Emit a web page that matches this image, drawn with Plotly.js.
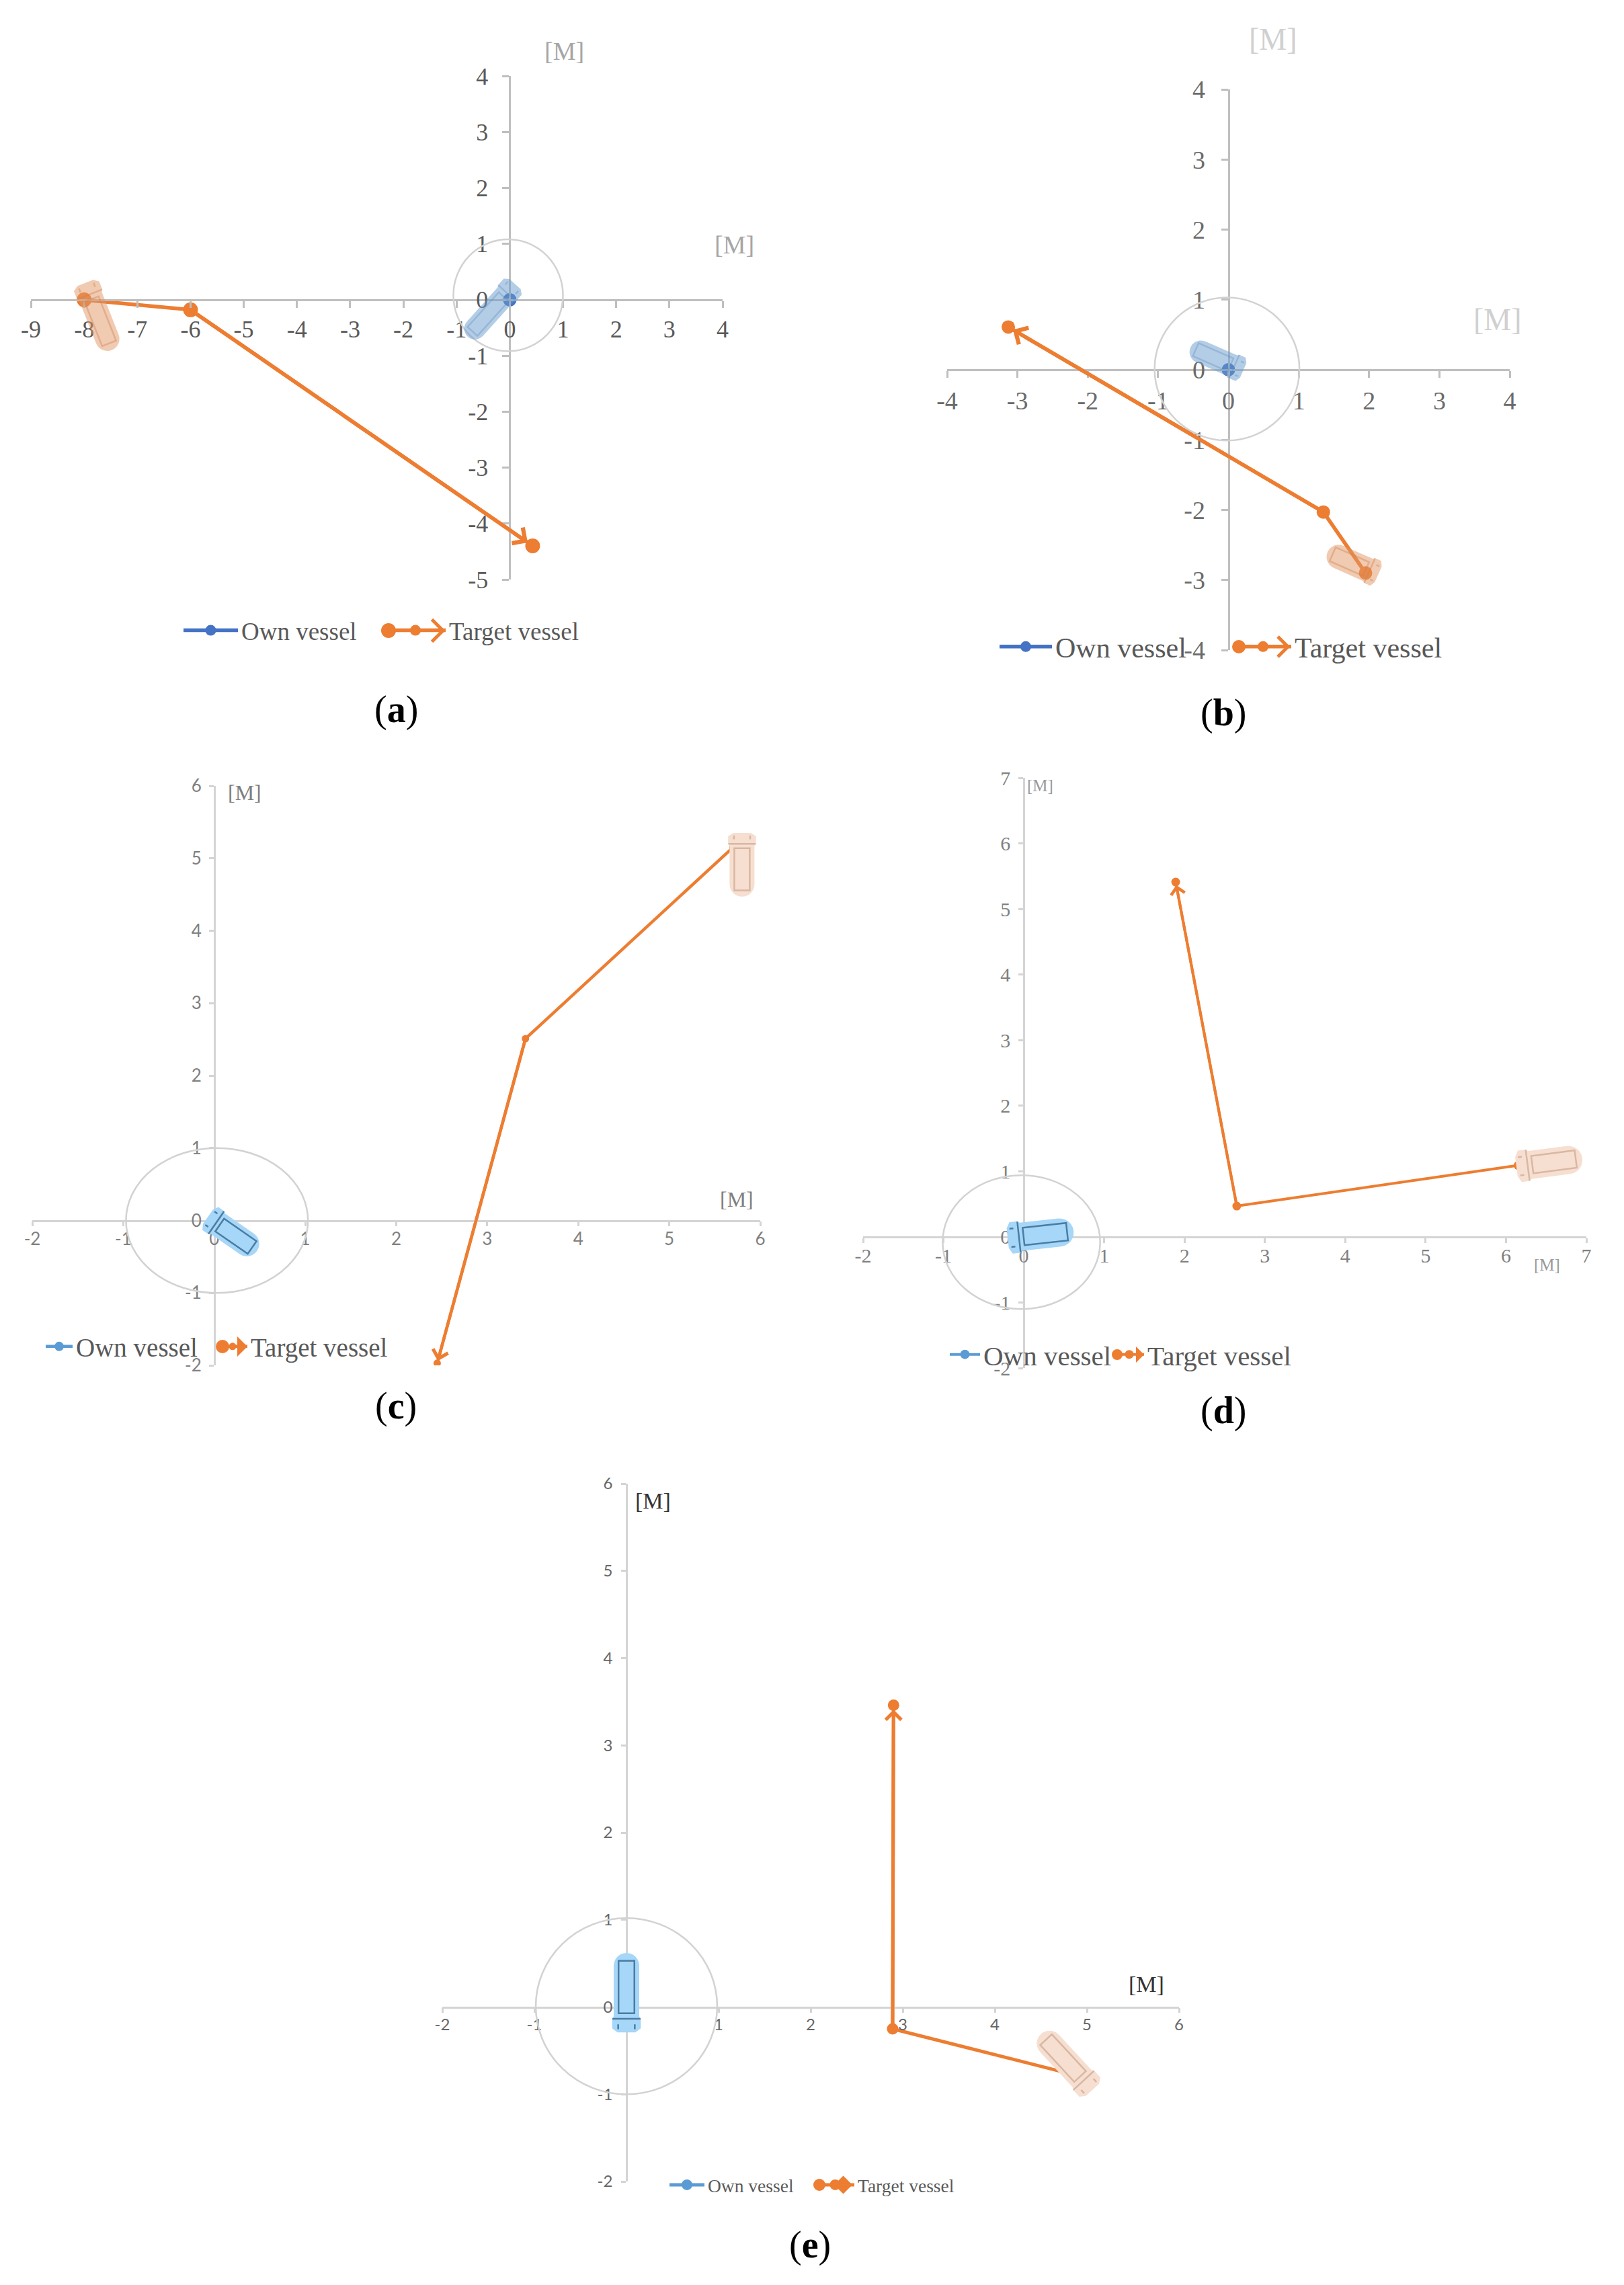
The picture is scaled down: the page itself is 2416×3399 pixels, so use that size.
<!DOCTYPE html>
<html>
<head>
<meta charset="utf-8">
<script src="https://cdn.plot.ly/plotly-3.0.1.min.js"></script>
<style>body{margin:0;background:#fff}</style>
</head>
<body>
<div id="chart" style="width:2416px;height:3399px"></div>
<script>
const W = 2416, H = 3399;
const ORANGE = '#ed7d31';

// target vessel tracks
const targetXa = [-8, -6, 0.43];
const targetYa = [0, -0.18, -4.4];
const targetXb = [1.95, 1.35, -3.13];
const targetYb = [-2.9, -2.03, 0.61];
const targetXc = [5.7, 3.42, 2.45];
const targetYc = [5.15, 2.51, -1.97];
const targetXd = [6.15, 2.65, 1.89];
const targetYd = [1.09, 0.47, 5.41];
const targetXe = [4.95, 2.89, 2.9];
const targetYe = [-0.8, -0.25, 3.46];

// own vessel always sits at the origin
const ownX = [0];
const ownY = [0];

// axis ticks, labelled with a plain hyphen like the original
const xTicks = [
  [-9, -8, -7, -6, -5, -4, -3, -2, -1, 0, 1, 2, 3, 4],
  [-4, -3, -2, -1, 0, 1, 2, 3, 4],
  [-2, -1, 0, 1, 2, 3, 4, 5, 6],
  [-2, -1, 0, 1, 2, 3, 4, 5, 6, 7],
  [-2, -1, 0, 1, 2, 3, 4, 5, 6]
];
const yTicks = [
  [-5, -4, -3, -2, -1, 0, 1, 2, 3, 4],
  [-4, -3, -2, -1, 0, 1, 2, 3, 4],
  [-2, -1, 0, 1, 2, 3, 4, 5, 6],
  [-2, -1, 0, 1, 2, 3, 4, 5, 6, 7],
  [-2, -1, 0, 1, 2, 3, 4, 5, 6]
];

// safety circle [centre x, centre y, radius x, radius y]
const circles = [
  [-0.03, 0.08, 1.03, 1.0],
  [-0.02, 0.01, 1.03, 1.02],
  [0.03, 0, 1.0, 1.0],
  [-0.03, -0.08, 0.98, 1.02],
  [0, 0.01, 0.985, 1.01]
];

// vessels as [stern x, stern y, bow x, bow y]
const ownShips = [
  [0.10, 0.28, -0.79, -0.66],
  [0.21, -0.01, -0.54, 0.32],
  [-0.07, 0.05, 0.47, -0.42],
  [-0.2, -0.02, 0.62, 0.09],
  [0, -0.29, 0, 0.62]
];
const targetShips = [
  [-7.98, 0.30, -7.48, -0.9],
  [2.13, -2.92, 1.41, -2.6],
  [5.8, 5.35, 5.8, 4.47],
  [6.13, 1.07, 6.95, 1.2],
  [5.06, -0.95, 4.5, -0.31]
];

const targetX = [targetXa, targetXb, targetXc, targetXd, targetXe];
const targetY = [targetYa, targetYb, targetYc, targetYd, targetYe];
const panelLabels = ['a', 'b', 'c', 'd', 'e'];
const ownName = 'Own vessel';
const targetName = 'Target vessel';

// pixel layout of each panel
const panels = [
  {l: 46, r: 1075, t: 113, b: 862, font: 'Liberation Serif', tick: 36, tickColor: '#595959', tickLen: 10, standX: 1, standY: 14,
   axis: '#bfbfbf', axisW: 3, own: '#4472c4', ownSize: 20, tSize: 22, lw: 5.5, beam: [32, 36], head: 1,
   ownFill: 'rgba(105,155,205,0.5)', ownLine: 'rgba(95,140,190,0.35)', tFill: 'rgba(225,150,100,0.5)', tLine: 'rgba(205,130,85,0.4)',
   mTop: [839, 76, 38, '#a6a6a6'], mRight: [1092, 364, 38, '#a6a6a6'],
   legend: {y: 938, own: [268, 81], target: [568, 90], size: 37}, letter: [589, 1055], deco: 'open', decoR: 11, decoArrow: [578, 659]},
  {l: 1409, r: 2246, t: 133, b: 967, font: 'Liberation Serif', tick: 38, tickColor: '#6b6b6b', tickLen: 10, standX: 1, standY: 16,
   axis: '#bfbfbf', axisW: 3, own: '#4472c4', ownSize: 20, tSize: 20, lw: 5.5, beam: [34, 36], head: 1,
   ownFill: 'rgba(105,155,205,0.5)', ownLine: 'rgba(95,140,190,0.35)', tFill: 'rgba(225,150,100,0.5)', tLine: 'rgba(205,130,85,0.4)',
   mTop: [1894, 58, 46, '#d0d0d0'], mRight: [2228, 475, 46, '#d0d0d0'],
   legend: {y: 962, own: [1482, 78], target: [1832, 84], size: 42}, letter: [1820, 1060], deco: 'open', decoR: 10, decoArrow: [1843, 1916]},
  {l: 48, r: 1131, t: 1169, b: 2031, font: 'Lato', tick: 26, tickColor: '#808080', tickLen: 7, standX: -3, standY: 6,
   axis: '#d4d4d4', axisW: 2.5, own: '#5b9bd5', ownSize: 14, tSize: 11, lw: 4.5, beam: [37, 37], head: 1,
   ownFill: '#a6d6f8', ownLine: '#4a7da3', tFill: '#f6dfd0', tLine: '#d9b7a3',
   mTop: [364, 1179, 32, '#7f7f7f'], mRight: [1096, 1784, 32, '#7f7f7f'],
   legend: {y: 2003, own: [63, 40], target: [319, 44], size: 39}, letter: [589, 2091], deco: 'solid', decoR: 10, decoArrow: [331, 368]},
  {l: 1284, r: 2360, t: 1157, b: 2035, font: 'Liberation Serif', tick: 30, tickColor: '#808080', tickLen: 7, standX: -7, standY: 6,
   axis: '#d4d4d4', axisW: 2.5, own: '#5b9bd5', ownSize: 14, tSize: 13, lw: 4, beam: [42, 42], head: 1,
   ownFill: '#a6d6f8', ownLine: '#4a7da3', tFill: '#f6dfd0', tLine: '#d9b7a3',
   mTop: [1547, 1168, 25, '#999999'], mRight: [2301, 1881, 25, '#999999'],
   legend: {y: 2015, own: [1408, 45], target: [1653, 44], size: 41}, letter: [1820, 2098], deco: 'solid', decoR: 8, decoArrow: [1662, 1702]},
  {l: 658, r: 1754, t: 2207, b: 3245, font: 'Lato', tick: 24, tickColor: '#666666', tickLen: 7, standX: -3, standY: 8,
   axis: '#d4d4d4', axisW: 2.5, own: '#5b9bd5', ownSize: 16, tSize: 17, lw: 5, beam: [38, 38], head: 1,
   ownFill: '#a6d6f8', ownLine: '#4a7da3', tFill: '#f6dfd0', tLine: '#d9b7a3',
   mTop: [971, 2232, 34, '#333333'], mRight: [1705, 2951, 34, '#333333'],
   legend: {y: 3250, own: [991, 52], target: [1209, 57], size: 27.5}, letter: [1205, 3339], deco: 'diamond', decoR: 9, decoArrow: [1219, 1268]}
];

const arrowSizes = [1.0, 1.0, 1.0, 1.0, 0.9];

function axisName(i, letter) {
  return i === 0 ? letter : letter + (i + 1);
}

// hull plus deck outline, built in pixels so the shape keeps its proportion
function shipShapes(ship, beam, p, xr, yr, xref, yref, fill, line) {
  const ux = (p.r - p.l) / (xr[1] - xr[0]);
  const uy = (p.b - p.t) / (yr[1] - yr[0]);
  const x0 = ship[0] * ux, y0 = ship[1] * uy;
  const dx = ship[2] * ux - x0, dy = ship[3] * uy - y0;
  const L = Math.hypot(dx, dy);
  const ax = dx / L, ay = dy / L;
  const pt = (u, v) => ((x0 + ax * u - ay * v) / ux).toFixed(4) + ',' + ((y0 + ay * u + ax * v) / uy).toFixed(4);
  const half = beam / 2;

  // flared stern, straight sides, round bow
  let hull = 'M' + pt(0, -half * 0.7) + 'L' + pt(L * 0.05, -half * 1.12) + 'L' + pt(L * 0.17, -half * 1.12) + 'L' + pt(L * 0.2, -half);
  for (let a = -90; a <= 90; a += 15) {
    const t = a * Math.PI / 180;
    hull += 'L' + pt(L - half + half * Math.cos(t), half * Math.sin(t));
  }
  hull += 'L' + pt(L * 0.2, half) + 'L' + pt(L * 0.17, half * 1.12) + 'L' + pt(L * 0.05, half * 1.12) + 'L' + pt(0, half * 0.7) + 'Z';

  const deck = 'M' + pt(L * 0.24, -half * 0.62) + 'L' + pt(L * 0.9, -half * 0.62) +
    'L' + pt(L * 0.9, half * 0.62) + 'L' + pt(L * 0.24, half * 0.62) + 'Z' +
    'M' + pt(L * 0.17, -half * 1.1) + 'L' + pt(L * 0.17, half * 1.1) +
    'M' + pt(L * 0.04, -half * 0.65) + 'L' + pt(L * 0.1, -half * 0.65) +
    'M' + pt(L * 0.04, half * 0.65) + 'L' + pt(L * 0.1, half * 0.65);

  return [
    {type: 'path', xref: xref, yref: yref, layer: 'above', path: hull, fillcolor: fill, line: {width: 0}},
    {type: 'path', xref: xref, yref: yref, layer: 'above', path: deck, line: {color: line, width: 2.5}}
  ];
}

const fx = v => v / W;
const fy = v => 1 - v / H;

// the extra circle and arrow head next to the target key in the legend
function legendDeco(p) {
  const d = p.decoArrow, x0 = d[0], tip = d[1], y = p.legend.y, r = p.decoR;
  const out = [{type: 'circle', xref: 'paper', yref: 'paper', layer: 'above',
    x0: fx(x0 - r), x1: fx(x0 + r), y0: fy(y + r), y1: fy(y - r), fillcolor: ORANGE, line: {width: 0}}];
  const s = r * 1.5;
  let path;
  if (p.deco === 'open') {
    path = 'M' + fx(tip - s) + ',' + fy(y - s) + 'L' + fx(tip) + ',' + fy(y) + 'L' + fx(tip - s) + ',' + fy(y + s);
    out.push({type: 'path', xref: 'paper', yref: 'paper', layer: 'above', path: path, line: {color: ORANGE, width: 5}});
  } else {
    const back = p.deco === 'diamond' ? tip - 2 * s : tip - s;
    path = 'M' + fx(back) + ',' + fy(y) + 'L' + fx(tip - s) + ',' + fy(y - s) + 'L' + fx(tip) + ',' + fy(y) + 'L' + fx(tip - s) + ',' + fy(y + s) + 'Z';
    out.push({type: 'path', xref: 'paper', yref: 'paper', layer: 'above', path: path, fillcolor: ORANGE, line: {width: 0}});
  }
  return out;
}

const traces = [];
const shapes = [];
const annotations = [];
const layout = {
  width: W, height: H,
  margin: {l: 0, r: 0, t: 0, b: 0},
  paper_bgcolor: '#fff', plot_bgcolor: 'rgba(0,0,0,0)',
  showlegend: true
};

function legendBox(p, key) {
  return {
    orientation: 'h', x: fx(key[0]), xanchor: 'left', y: fy(p.legend.y), yanchor: 'middle',
    itemwidth: key[1], bgcolor: 'rgba(0,0,0,0)',
    font: {family: 'Liberation Serif', size: p.legend.size, color: '#595959'}, itemclick: false, itemdoubleclick: false
  };
}

panels.forEach((p, i) => {
  const xa = axisName(i, 'x'), ya = axisName(i, 'y');
  const xt = xTicks[i], yt = yTicks[i];
  const xr = [xt[0], xt[xt.length - 1]], yr = [yt[0], yt[yt.length - 1]];
  const xKey = i === 0 ? 'xaxis' : 'xaxis' + (i + 1);
  const yKey = i === 0 ? 'yaxis' : 'yaxis' + (i + 1);
  const ownLegend = i === 0 ? 'legend' : 'legend' + (2 * i + 1);
  const targetLegend = 'legend' + (2 * i + 2);

  const y0px = p.t + (yr[1] / (yr[1] - yr[0])) * (p.b - p.t);
  const x0px = p.l + (-xr[0] / (xr[1] - xr[0])) * (p.r - p.l);

  const axisStyle = {
    tickmode: 'array', showgrid: false, zeroline: false, showline: true,
    linecolor: p.axis, linewidth: p.axisW, ticks: 'outside', ticklen: p.tickLen,
    tickwidth: p.axisW, tickcolor: p.axis,
    tickfont: {family: p.font, size: p.tick, color: p.tickColor}, anchor: 'free'
  };
  layout[xKey] = Object.assign({}, axisStyle, {range: xr, domain: [fx(p.l), fx(p.r)], position: fy(y0px),
    tickvals: xt, ticktext: xt.map(String), ticklabelstandoff: p.standX});
  layout[yKey] = Object.assign({}, axisStyle, {range: yr, domain: [fy(p.b), fy(p.t)], position: fx(x0px),
    tickvals: yt, ticktext: yt.map(String), ticklabelstandoff: p.standY});

  traces.push({
    x: targetX[i], y: targetY[i], xaxis: xa, yaxis: ya, name: targetName, mode: 'lines+markers',
    line: {color: ORANGE, width: p.lw}, marker: {color: ORANGE, size: p.tSize}, legend: targetLegend,
    hoverinfo: 'x+y'
  });
  traces.push({
    x: ownX, y: ownY, xaxis: xa, yaxis: ya, name: ownName, mode: 'lines+markers',
    line: {color: p.own, width: p.lw}, marker: {color: p.own, size: p.ownSize}, legend: ownLegend,
    hoverinfo: 'x+y'
  });

  layout[ownLegend] = legendBox(p, p.legend.own);
  layout[targetLegend] = legendBox(p, p.legend.target);

  const c = circles[i];
  shapes.push({type: 'circle', xref: xa, yref: ya, x0: c[0] - c[2], x1: c[0] + c[2], y0: c[1] - c[3], y1: c[1] + c[3],
    layer: 'above', line: {color: '#d2d2d2', width: 2.5}});
  shapes.push(...shipShapes(ownShips[i], p.beam[0], p, xr, yr, xa, ya, p.ownFill, p.ownLine));
  shapes.push(...shipShapes(targetShips[i], p.beam[1], p, xr, yr, xa, ya, p.tFill, p.tLine));
  shapes.push(...legendDeco(p));

  // arrow head on the last leg of the track
  const tx = targetX[i], ty = targetY[i];
  annotations.push({x: tx[2], y: ty[2], xref: xa, yref: ya, ax: tx[1], ay: ty[1], axref: xa, ayref: ya, text: '',
    showarrow: true, arrowhead: 4, arrowsize: arrowSizes[i], arrowwidth: p.lw, arrowcolor: ORANGE, standoff: p.tSize / 2 - 2});

  [p.mTop, p.mRight].forEach(m => {
    annotations.push({xref: 'paper', yref: 'paper', x: fx(m[0]), y: fy(m[1]), text: '[M]', showarrow: false,
      xanchor: 'center', yanchor: 'middle', font: {family: 'Liberation Serif', size: m[2], color: m[3]}});
  });

  annotations.push({xref: 'paper', yref: 'paper', x: fx(p.letter[0]), y: fy(p.letter[1]), showarrow: false,
    text: '(<b>' + panelLabels[i] + '</b>)', xanchor: 'center', yanchor: 'middle',
    font: {family: 'Liberation Serif', size: 56, color: '#000'}});
});

layout.shapes = shapes;
layout.annotations = annotations;

Plotly.newPlot('chart', traces, layout, {displayModeBar: false, responsive: false});
</script>
</body>
</html>
